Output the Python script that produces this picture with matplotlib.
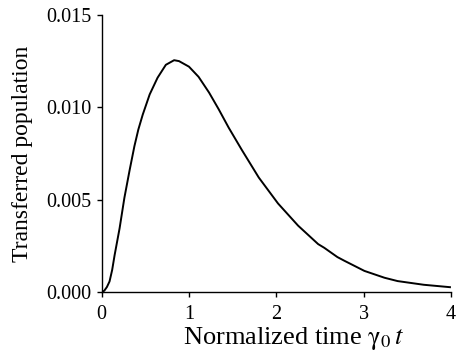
import matplotlib
matplotlib.use('Agg')
import matplotlib.pyplot as plt

plt.rcParams['font.family'] = ['Liberation Serif', 'DejaVu Serif']
plt.rcParams['mathtext.fontset'] = 'stix'

# values
time = [0.0, 0.03, 0.06, 0.09, 0.12, 0.148, 0.205, 0.26, 0.32, 0.375, 0.42, 0.47,
        0.55, 0.64, 0.735, 0.83, 0.886, 1.0, 1.11, 1.23, 1.34, 1.455, 1.605, 1.80,
        2.02, 2.25, 2.48, 2.55, 2.70, 2.78, 3.01, 3.24, 3.39, 3.69, 3.99]
population = [0.0, 0.00008, 0.00028, 0.00058, 0.0012, 0.0020, 0.00345, 0.0051,
              0.0066, 0.0079, 0.0088, 0.0096, 0.0107, 0.0116, 0.0123, 0.01255,
              0.0125, 0.0122, 0.01165, 0.0108, 0.0099, 0.0089, 0.0077, 0.0062,
              0.0048, 0.0036, 0.0026, 0.0024, 0.0019, 0.0017, 0.00115, 0.00078,
              0.0006, 0.0004, 0.00027]

fig = plt.figure(figsize=(4.57, 3.55), dpi=100)
ax = fig.add_axes([0.2225, 0.177, 0.764, 0.781])

ax.plot(time, population, color='black', lw=1.4)

ax.set_xlim(0, 4)
ax.set_ylim(0, 0.015)
ax.set_xticks([0, 1, 2, 3, 4])
ax.set_yticks([0.0, 0.005, 0.010, 0.015])
ax.set_yticklabels(['0.000', '0.005', '0.010', '0.015'])

for s in ['top', 'right']:
    ax.spines[s].set_visible(False)
for s in ['left', 'bottom']:
    ax.spines[s].set_linewidth(1.0)

ax.tick_params(direction='out', length=3.5, width=1, labelsize=14.5)
ax.tick_params(axis='x', pad=6)
ax.tick_params(axis='y', pad=4)
ax.set_xlabel(r'Normalized time $\mathrm{\gamma}_0\,t$', fontsize=19)
ax.xaxis.set_label_coords(0.55, -0.12)
ax.xaxis.label.set_va('top')
ax.set_ylabel('Transferred population', fontsize=17)
ax.yaxis.set_label_coords(-0.197, 0.5)

fig.savefig('out.png', dpi=100)
